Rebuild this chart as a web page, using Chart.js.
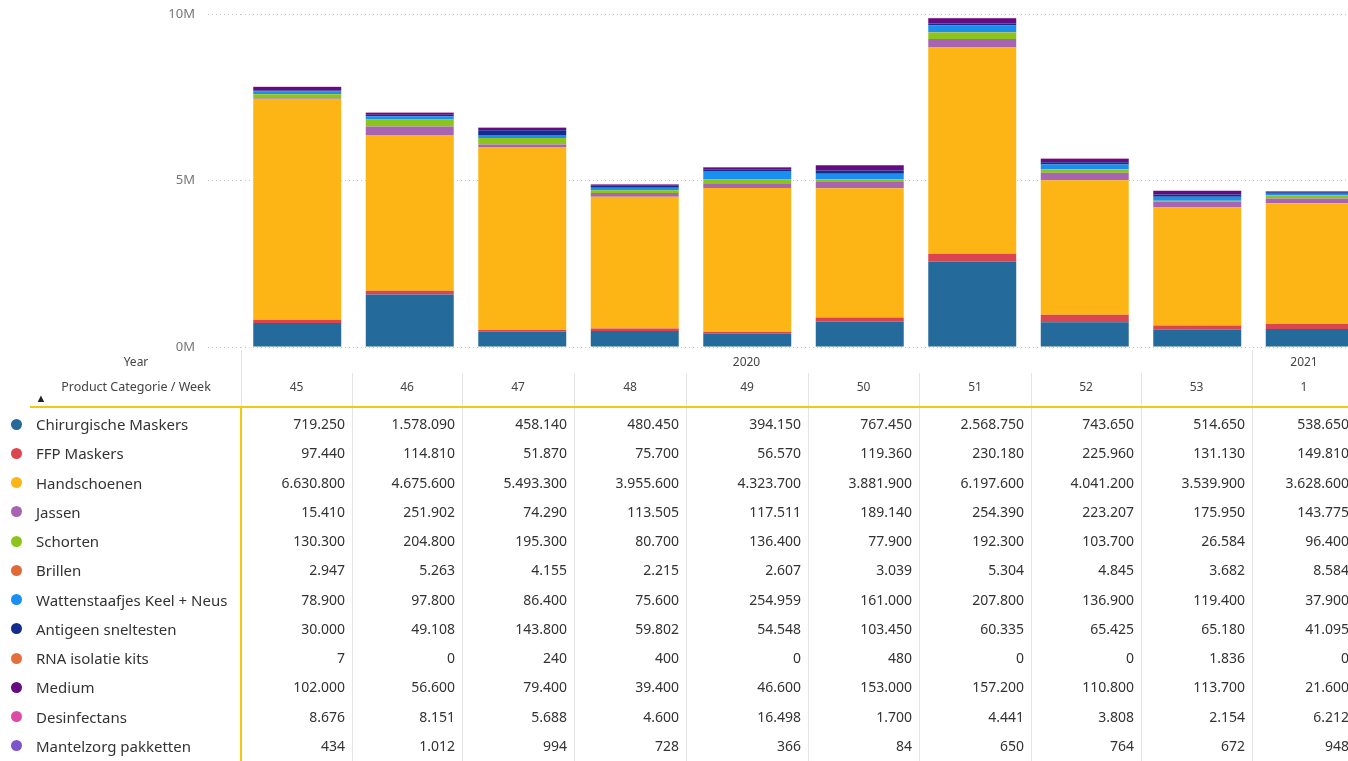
<!DOCTYPE html>
<html>
<head>
<meta charset="utf-8">
<script src="https://cdn.jsdelivr.net/npm/chart.js@4.4.0/dist/chart.umd.min.js"></script>
<style>
  body { margin: 0; width: 1348px; height: 761px; overflow: hidden; background: #fff; position: relative; font-family: 'Noto Sans', 'Open Sans', sans-serif; }
  #chartBox { position: absolute; left: 0; top: 0; width: 1366px; height: 360px; }
  #matrix { position: absolute; left: 0; top: 0; width: 1348px; height: 761px; }
  .t { position: absolute; white-space: nowrap; line-height: 20px; }
  .ln { position: absolute; }
</style>
</head>
<body>
<div id="chartBox"><canvas id="chart"></canvas></div>
<div id="matrix"></div>
<script>
// weeks + years
const weeks = ['45', '46', '47', '48', '49', '50', '51', '52', '53', '1'];
const years = ['2020', '2020', '2020', '2020', '2020', '2020', '2020', '2020', '2020', '2021'];

// product categories (bottom of the stack first)
const products = ['Chirurgische Maskers', 'FFP Maskers', 'Handschoenen', 'Jassen', 'Schorten', 'Brillen',
  'Wattenstaafjes Keel + Neus', 'Antigeen sneltesten', 'RNA isolatie kits', 'Medium', 'Desinfectans', 'Mantelzorg pakketten'];
const productColors = ['#246a9b', '#d9464f', '#fcb515', '#a765b1', '#8bc51c', '#e36a37',
  '#1b8ff0', '#142b8f', '#e6703a', '#640c80', '#df4aa8', '#7c56c9'];

// values per week
const chirurgischeMaskers = [719250, 1578090, 458140, 480450, 394150, 767450, 2568750, 743650, 514650, 538650];
const ffpMaskers = [97440, 114810, 51870, 75700, 56570, 119360, 230180, 225960, 131130, 149810];
const handschoenen = [6630800, 4675600, 5493300, 3955600, 4323700, 3881900, 6197600, 4041200, 3539900, 3628600];
const jassen = [15410, 251902, 74290, 113505, 117511, 189140, 254390, 223207, 175950, 143775];
const schorten = [130300, 204800, 195300, 80700, 136400, 77900, 192300, 103700, 26584, 96400];
const brillen = [2947, 5263, 4155, 2215, 2607, 3039, 5304, 4845, 3682, 8584];
const wattenstaafjes = [78900, 97800, 86400, 75600, 254959, 161000, 207800, 136900, 119400, 37900];
const antigeenSneltesten = [30000, 49108, 143800, 59802, 54548, 103450, 60335, 65425, 65180, 41095];
const rnaIsolatieKits = [7, 0, 240, 400, 0, 480, 0, 0, 1836, 0];
const medium = [102000, 56600, 79400, 39400, 46600, 153000, 157200, 110800, 113700, 21600];
const desinfectans = [8676, 8151, 5688, 4600, 16498, 1700, 4441, 3808, 2154, 6212];
const mantelzorgPakketten = [434, 1012, 994, 728, 366, 84, 650, 764, 672, 948];

const yTicks = [0, 5000000, 10000000];

const series = [chirurgischeMaskers, ffpMaskers, handschoenen, jassen, schorten, brillen,
  wattenstaafjes, antigeenSneltesten, rnaIsolatieKits, medium, desinfectans, mantelzorgPakketten];

const gridColor = '#c8c8c8';

new Chart(document.getElementById('chart'), {
  type: 'bar',
  data: {
    labels: weeks,
    datasets: series.map((vals, i) => ({
      label: products[i],
      data: vals,
      backgroundColor: productColors[i],
      borderWidth: 0,
      categoryPercentage: 1,
      barPercentage: 0.782,
    })),
  },
  options: {
    responsive: true,
    maintainAspectRatio: false,
    animation: false,
    layout: { padding: { top: 14, bottom: 13, left: 0, right: 0 } },
    plugins: { legend: { display: false }, tooltip: { enabled: false } },
    scales: {
      x: { stacked: true, display: false },
      y: {
        stacked: true,
        min: 0,
        max: 10000000,
        afterBuildTicks: (scale) => { scale.ticks = yTicks.map(v => ({ value: v })); },
        afterFit: (scale) => {
          scale.width = 241;
          // don't let the label padding shrink the plot height
          scale.paddingTop = 0;
          scale.paddingBottom = 0;
        },
        border: { display: false, dash: [1, 3] },
        grid: {
          color: gridColor,
          lineWidth: 1,
          drawTicks: true,
          tickLength: 33,
          tickColor: gridColor,
          tickBorderDash: [1, 3],
        },
        ticks: {
          padding: 13,
          color: '#777',
          font: { family: "'Noto Sans', sans-serif", size: 13 },
          callback: (v) => (v / 1000000) + 'M',
        },
      },
    },
  },
});

// ---- matrix below the chart ----
const m = document.getElementById('matrix');
const colEdges = [241, 352, 462, 574, 686, 808, 919, 1031, 1141, 1252, 1356];
const rowY0 = 424, rowH = 29.27;

function fmt(v) {
  return String(v).replace(/\B(?=(\d{3})+(?!\d))/g, '.');
}
function text(str, x, y, opts) {
  const d = document.createElement('div');
  d.className = 't';
  d.textContent = str;
  d.style.top = (y - 10) + 'px';
  d.style.fontSize = (opts.size || 14) + 'px';
  d.style.color = opts.color || '#333';
  if (opts.align === 'right') { d.style.right = (1348 - x) + 'px'; }
  else if (opts.align === 'center') { d.style.left = (x - 100) + 'px'; d.style.width = '200px'; d.style.textAlign = 'center'; }
  else { d.style.left = x + 'px'; }
  m.appendChild(d);
  return d;
}
function line(x, y, w, h, c) {
  const d = document.createElement('div');
  d.className = 'ln';
  d.style.left = x + 'px'; d.style.top = y + 'px';
  d.style.width = w + 'px'; d.style.height = h + 'px';
  d.style.background = c;
  m.appendChild(d);
}

// header
text('Year', 136, 362, { size: 12, color: '#444', align: 'center' });
text('Product Categorie / Week', 136, 387, { size: 12.5, color: '#444', align: 'center' });
text('\u25B2', 41, 398, { size: 11, color: '#222', align: 'center' });

// year labels spanning their weeks
const yearSpans = {};
years.forEach((y, i) => {
  if (!yearSpans[y]) yearSpans[y] = [colEdges[i], colEdges[i + 1]];
  else yearSpans[y][1] = colEdges[i + 1];
});
Object.keys(yearSpans).forEach(y => {
  const [a, b] = yearSpans[y];
  text(y, y === '2021' ? 1304 : (a + b) / 2, 362, { size: 12, color: '#444', align: 'center' });
});
weeks.forEach((w, i) => {
  text(w, (colEdges[i] + colEdges[i + 1]) / 2, 387, { size: 12, color: '#444', align: 'center' });
});

// grid lines of the matrix
line(241, 350, 1, 57, '#e4e4e4');
line(1252, 350, 1, 411, '#e4e4e4');
for (let i = 1; i < colEdges.length - 2; i++) line(colEdges[i], 373, 1, 388, '#e4e4e4');
line(30, 406, 1318, 2, '#f2c811');
line(240, 406, 2, 355, '#f2c811');

// body rows
products.forEach((p, r) => {
  const cy = rowY0 + r * rowH;
  const dot = document.createElement('div');
  dot.className = 'ln';
  dot.style.left = '11px'; dot.style.top = (cy - 5.5) + 'px';
  dot.style.width = '11px'; dot.style.height = '11px';
  dot.style.borderRadius = '50%';
  dot.style.background = productColors[r];
  m.appendChild(dot);
  text(p, 36, cy, { size: 15, color: '#333' });
  series[r].forEach((v, c) => {
    text(fmt(v), colEdges[c + 1] - 7, cy, { size: 14, color: '#333', align: 'right' });
  });
});
</script>
</body>
</html>
